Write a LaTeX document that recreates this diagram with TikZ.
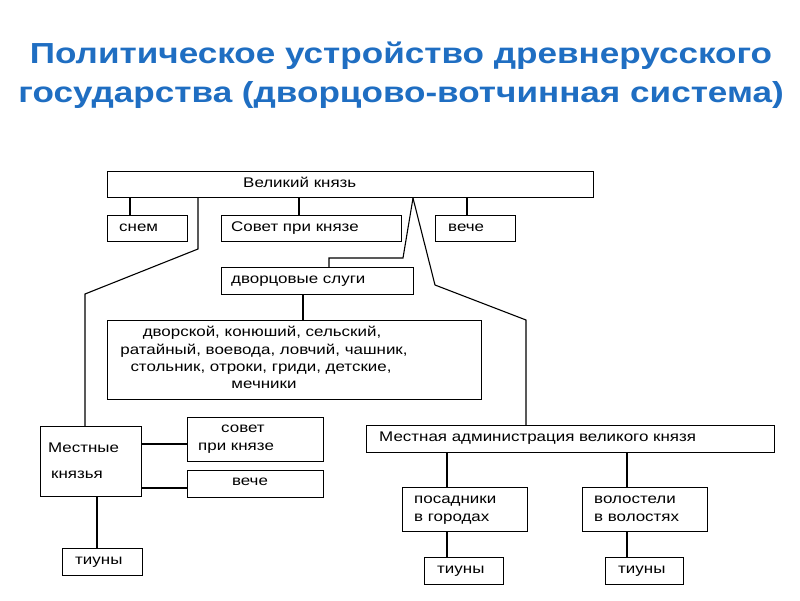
\documentclass[tikz,border=0pt]{standalone}
\usepackage{fontspec}
\setmainfont{Liberation Sans}
\newfontfamily\boxfont{Liberation Sans}[FakeStretch=1.21]
\newfontfamily\titlefont{Liberation Sans}[FakeStretch=1.21]
\definecolor{titleblue}{HTML}{1F6EC2}
\begin{document}
\begin{tikzpicture}[x=1pt,y=-1pt,
  box/.style={draw, line width=1.1pt, inner sep=0pt, anchor=north west, rectangle},
  txt/.style={anchor=base west, inner sep=0pt, font=\boxfont\fontsize{14}{16}\selectfont},
  ctxt/.style={anchor=base, inner sep=0pt, font=\boxfont\fontsize{14}{16}\selectfont},
  link/.style={line width=1.1pt},
  thick link/.style={line width=2.4pt},
  ttl/.style={anchor=base, inner sep=0pt, text=titleblue, font=\titlefont\bfseries\fontsize{29}{33}\selectfont}]
\useasboundingbox (0,0) rectangle (800,600);
% title
\node[ttl] (t1) at (401,63) {Политическое устройство древнерусского};
\node[ttl] (t2) at (401,102) {государства (дворцово-вотчинная система)};
% boxes
\node[box, minimum width=486pt, minimum height=26pt] (vk) at (107,171) {};
\node[box, minimum width=80pt, minimum height=26pt] (sn) at (107,215) {};
\node[box, minimum width=180pt, minimum height=26pt] (sov) at (221,215) {};
\node[box, minimum width=80pt, minimum height=26pt] (ve) at (435,215) {};
\node[box, minimum width=192pt, minimum height=27pt] (ds) at (221,267) {};
\node[box, minimum width=374pt, minimum height=79pt] (big) at (107,320) {};
\node[box, minimum width=101pt, minimum height=70pt] (mk) at (40,426) {};
\node[box, minimum width=136pt, minimum height=44pt] (sov2) at (187,417) {};
\node[box, minimum width=136pt, minimum height=27pt] (ve2) at (187,470) {};
\node[box, minimum width=80pt, minimum height=27pt] (ti1) at (62,548) {};
\node[box, minimum width=408pt, minimum height=27pt] (ma) at (366,425) {};
\node[box, minimum width=125pt, minimum height=44pt] (pos) at (402,487) {};
\node[box, minimum width=125pt, minimum height=44pt] (vol) at (582,487) {};
\node[box, minimum width=79pt, minimum height=27pt] (ti2) at (424,557) {};
\node[box, minimum width=78pt, minimum height=27pt] (ti3) at (605,557) {};
% texts
\node[txt] (vkt) at (243,187) {Великий князь};
\node[txt] (snt) at (119,231) {снем};
\node[txt] (sovt) at (231,231) {Совет при князе};
\node[txt] (vet) at (448,231) {вече};
\node[txt] (dst) at (231,283) {дворцовые слуги};
\node[ctxt] (b1) at (262,336) {дворской, конюший, сельский,};
\node[ctxt] (b2) at (264,354) {ратайный, воевода, ловчий, чашник,};
\node[ctxt] (b3) at (261,371) {стольник, отроки, гриди, детские,};
\node[ctxt] (b4) at (264,388) {мечники};
\node[txt] (mk1) at (48,452) {Местные};
\node[txt] (mk2) at (51,478) {князья};
\node[ctxt] (s21) at (243,432) {совет};
\node[txt] (s22) at (198,450) {при князе};
\node[ctxt] (v2t) at (250,485) {вече};
\node[txt] (t1t) at (75,564) {тиуны};
\node[txt] (mat) at (379,441) {Местная администрация великого князя};
\node[txt] (pos1) at (414,503) {посадники};
\node[txt] (pos2) at (414,521) {в городах};
\node[txt] (vol1) at (594,503) {волостели};
\node[txt] (vol2) at (594,521) {в волостях};
\node[txt] (t2t) at (437,573) {тиуны};
\node[txt] (t3t) at (618,573) {тиуны};
% connectors
\draw[link] ([xshift=23pt]sn.north west) -- ([xshift=23pt]sn.north west |- vk.south);
\draw[link] ([xshift=78pt]sov.north west) -- ([xshift=78pt]sov.north west |- vk.south);
\draw[link] ([xshift=32pt]ve.north west) -- ([xshift=32pt]ve.north west |- vk.south);
\coordinate (lA) at (198,249);
\coordinate (lB) at (85,294);
\draw[link] (lA |- vk.south) -- (lA) -- (lB) -- (lB |- mk.north);
\coordinate (apex) at (413,197);
\coordinate (dA) at (403,258);
\coordinate (dB) at (329,258);
\draw[link] (apex |- vk.south) -- (dA) -- (dB) -- (dB |- ds.north);
\coordinate (rA) at (435,285);
\coordinate (rB) at (526,320);
\draw[link] (apex |- vk.south) -- (rA) -- (rB) -- (rB |- ma.north);
\draw[link] ([xshift=82pt]ds.south west) -- ([xshift=82pt]ds.south west |- big.north);
\draw[link] ([yshift=-18pt]mk.north east) -- ([yshift=-18pt]mk.north east -| sov2.west);
\draw[link] ([yshift=-62pt]mk.north east) -- ([yshift=-62pt]mk.north east -| ve2.west);
\draw[link] ([xshift=57pt]mk.south west) -- ([xshift=57pt]mk.south west |- ti1.north);
\draw[thick link] ([xshift=45pt]pos.north west) -- ([xshift=45pt]pos.north west |- ma.south);
\draw[thick link] ([xshift=45pt]pos.south west) -- ([xshift=45pt]pos.south west |- ti2.north);
\draw[link] ([xshift=45pt]vol.north west) -- ([xshift=45pt]vol.north west |- ma.south);
\draw[link] ([xshift=45pt]vol.south west) -- ([xshift=45pt]vol.south west |- ti3.north);
\end{tikzpicture}
\end{document}
